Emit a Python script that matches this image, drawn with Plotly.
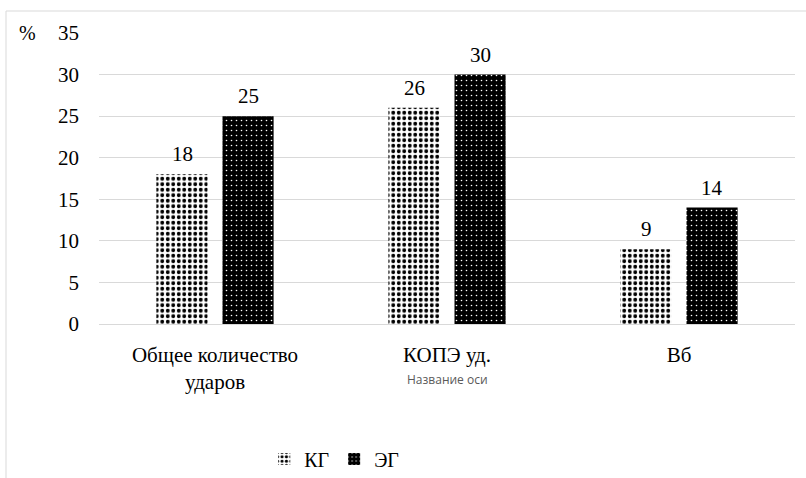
import plotly.graph_objects as go

categories = ["Общее количество<br>ударов", "КОПЭ уд.", "Вб"]
kg_values = [18, 26, 9]
eg_values = [25, 30, 14]
series_names = ["КГ", "ЭГ"]
y_ticks = [0, 5, 10, 15, 20, 25, 30, 35]

SERIF = "Liberation Serif, Times New Roman, serif"
SANS = "Open Sans"
GRID = "#d9d9d9"

fig = go.Figure()

fig.add_trace(go.Bar(
    name=series_names[0], x=categories, y=kg_values,
    marker=dict(
        color="white",
        line=dict(width=0),
        pattern=dict(shape=".", fgcolor="black", bgcolor="white",
                     size=5.5, solidity=0.4, fillmode="replace"),
    ),
))
fig.add_trace(go.Bar(
    name=series_names[1], x=categories, y=eg_values,
    marker=dict(
        color="black",
        line=dict(width=0),
        pattern=dict(shape=".", fgcolor="white", bgcolor="black",
                     size=5, solidity=0.08, fillmode="replace"),
    ),
))

# value labels above each bar
annotations = []
for vals, shift in ((kg_values, -33), (eg_values, 33)):
    for cat, v in zip(categories, vals):
        annotations.append(dict(
            x=cat, y=v, xref="x", yref="y", text=str(v), showarrow=False,
            xshift=shift, yshift=20, yanchor="middle",
            font=dict(family=SERIF, size=21, color="black"),
        ))

# unit label and horizontal axis title
annotations.append(dict(
    x=-0.1034, y=1.0, xref="paper", yref="paper", text="%", showarrow=False,
    xanchor="center", yanchor="middle",
    font=dict(family=SERIF, size=20, color="black"),
))
annotations.append(dict(
    x=0.5, y=-0.192, xref="paper", yref="paper", text="Название оси",
    showarrow=False, xanchor="center", yanchor="middle",
    font=dict(family=SANS, size=12, color="#595959"),
))

fig.update_layout(
    width=806, height=478,
    margin=dict(l=99, r=11, t=33, b=154, autoexpand=False),
    paper_bgcolor="white", plot_bgcolor="white",
    barmode="group", bargap=0.43, bargroupgap=0.227,
    showlegend=True,
    legend=dict(
        orientation="h", x=0.338, y=-0.464, xanchor="center", yanchor="middle",
        font=dict(family=SERIF, size=20, color="black"),
        itemwidth=30,
    ),
    annotations=annotations,
    shapes=[dict(
        type="rect", xref="paper", yref="paper",
        x0=-0.1336, x1=1.03, y0=-0.56, y1=1.0756,
        line=dict(color=GRID, width=1), fillcolor="rgba(0,0,0,0)",
        layer="below",
    )],
)

fig.update_xaxes(
    showgrid=False, showline=False, ticks="", ticklabelstandoff=16,
    tickfont=dict(family=SERIF, size=21, color="black"),
)
fig.update_yaxes(
    range=[0, 35], tickvals=y_ticks, showgrid=True, gridcolor=GRID, gridwidth=1,
    zeroline=True, zerolinecolor=GRID, zerolinewidth=1,
    showline=False, ticks="", ticklabelstandoff=19,
    tickfont=dict(family=SERIF, size=21, color="black"),
)

fig.write_html("out.html")
